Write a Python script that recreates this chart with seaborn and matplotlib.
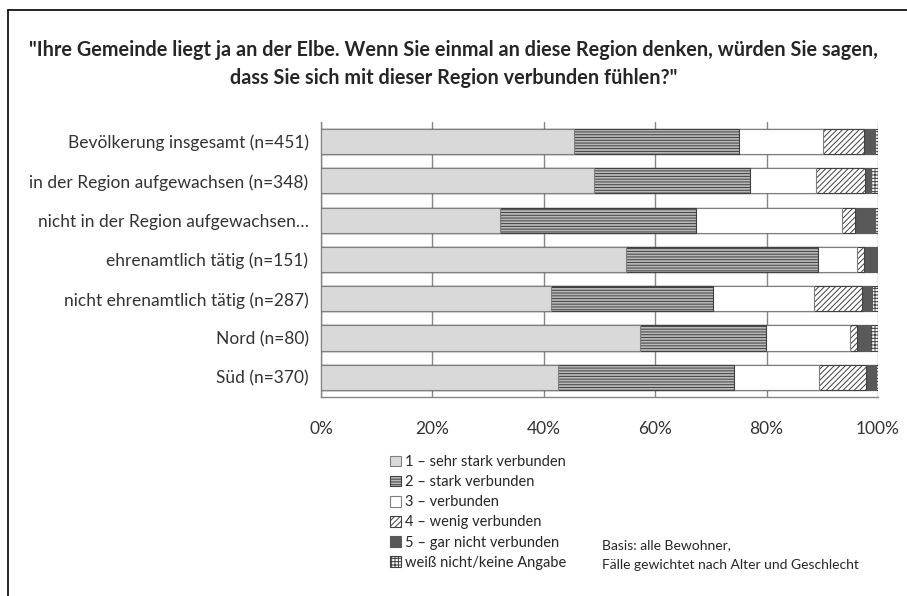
import numpy as np
import pandas as pd
import seaborn as sns
import matplotlib.pyplot as plt
from matplotlib.patches import Patch
from matplotlib.lines import Line2D

# Gruppen (y-Achse)
groups = ["Bevölkerung insgesamt (n=451)",
          "in der Region aufgewachsen (n=348)",
          "nicht in der Region aufgewachsen…",
          "ehrenamtlich tätig (n=151)",
          "nicht ehrenamtlich tätig (n=287)",
          "Nord (n=80)",
          "Süd (n=370)"]

answers = ["1 – sehr stark verbunden",
           "2 – stark verbunden",
           "3 – verbunden",
           "4 – wenig verbunden",
           "5 – gar nicht verbunden",
           "weiß nicht/keine Angabe"]

# Anteile in Prozent
sehr_stark = [45.4, 49.1, 32.1, 54.8, 41.3, 57.3, 42.6]
stark      = [29.6, 28.0, 35.3, 34.4, 29.0, 22.6, 31.5]
verbunden  = [15.1, 11.8, 26.2,  7.0, 18.2, 15.0, 15.3]
wenig      = [ 7.3,  8.7,  2.2,  1.3,  8.7,  1.3,  8.4]
gar_nicht  = [ 2.0,  1.2,  3.7,  2.5,  1.8,  2.4,  1.9]
weiss_nicht = [0.6,  1.2,  0.5,  0.0,  1.0,  1.4,  0.3]

df = pd.DataFrame({"group": groups, answers[0]: sehr_stark, answers[1]: stark,
                   answers[2]: verbunden, answers[3]: wenig,
                   answers[4]: gar_nicht, answers[5]: weiss_nicht})

sns.set_theme(style="white")
plt.rcParams['font.family'] = ['Lato', 'DejaVu Sans']
plt.rcParams['hatch.linewidth'] = 0.7

faces = ['#d9d9d9', '#b8b8b8', '#ffffff', '#ffffff', '#595959', '#ffffff']
edges = ['#7f7f7f', '#404040', '#7f7f7f', '#404040', '#595959', '#404040']
hatches = [None, '------', None, '//////', None, '+++++']

fig = plt.figure(figsize=(9.07, 5.96), dpi=100)
ax = fig.add_axes([321/907, 1 - 397/596, 557/907, 275/596])

# gestapelte Balken: von hinten (Summe) nach vorne zeichnen
cum = df[answers].cumsum(axis=1)
for i in range(len(answers) - 1, -1, -1):
    sns.barplot(x=cum[answers[i]], y=df["group"], order=groups, orient="h",
                color=faces[i], edgecolor=edges[i], linewidth=0.8,
                hatch=hatches[i], width=0.64, saturation=1, errorbar=None,
                ax=ax, zorder=3)

ax.set_xlim(0, 100)
ax.set_ylim(len(groups) - 0.5, -0.5)
ax.set_xticks(np.arange(0, 101, 20))
ax.set_xticklabels([f"{v}%" for v in range(0, 101, 20)], fontsize=12.5, color='#333333')
ax.tick_params(axis='x', direction='out', length=6, color='#868686', pad=11)
ax.tick_params(axis='y', length=0, labelsize=12.5, labelcolor='#333333', pad=9)
ax.set_yticks(np.arange(-0.5, len(groups), 1), minor=True)
ax.tick_params(axis='y', which='minor', length=5, color='#868686', direction='out')
ax.xaxis.grid(True, color='#868686', linewidth=1)
ax.set_axisbelow(True)
ax.set_xlabel("")
ax.set_ylabel("")
for s in ['top', 'right']:
    ax.spines[s].set_visible(False)
for s in ['left', 'bottom']:
    ax.spines[s].set_color('#868686')
    ax.spines[s].set_linewidth(1)

fig.text(0.5, 1 - 64/596,
         '"Ihre Gemeinde liegt ja an der Elbe. Wenn Sie einmal an diese Region denken, würden Sie sagen,\n'
         'dass Sie sich mit dieser Region verbunden fühlen?"',
         ha='center', va='center', fontsize=14.3, fontweight='bold', linespacing=1.45)

handles = [Patch(facecolor=faces[i], edgecolor=edges[i], hatch=hatches[i], linewidth=0.8)
           for i in range(len(answers))]
fig.legend(handles, answers, loc='upper left', bbox_to_anchor=(390/907, 1 - 455/596),
           frameon=False, fontsize=10.5, handlelength=0.75, handleheight=0.75,
           handletextpad=0.3, labelspacing=0.42, borderaxespad=0, borderpad=0)

fig.text(602/907, 1 - 545/596, "Basis: alle Bewohner,", fontsize=10, va='center')
fig.text(602/907, 1 - 565/596, "Fälle gewichtet nach Alter und Geschlecht", fontsize=10, va='center')

# Rahmen links und oben
fig.add_artist(Line2D([8/907, 8/907], [0, 1 - 10/596], color='black', linewidth=1.2))
fig.add_artist(Line2D([8/907, 1], [1 - 10/596, 1 - 10/596], color='black', linewidth=1.2))

fig.savefig('out.png', dpi=100)
